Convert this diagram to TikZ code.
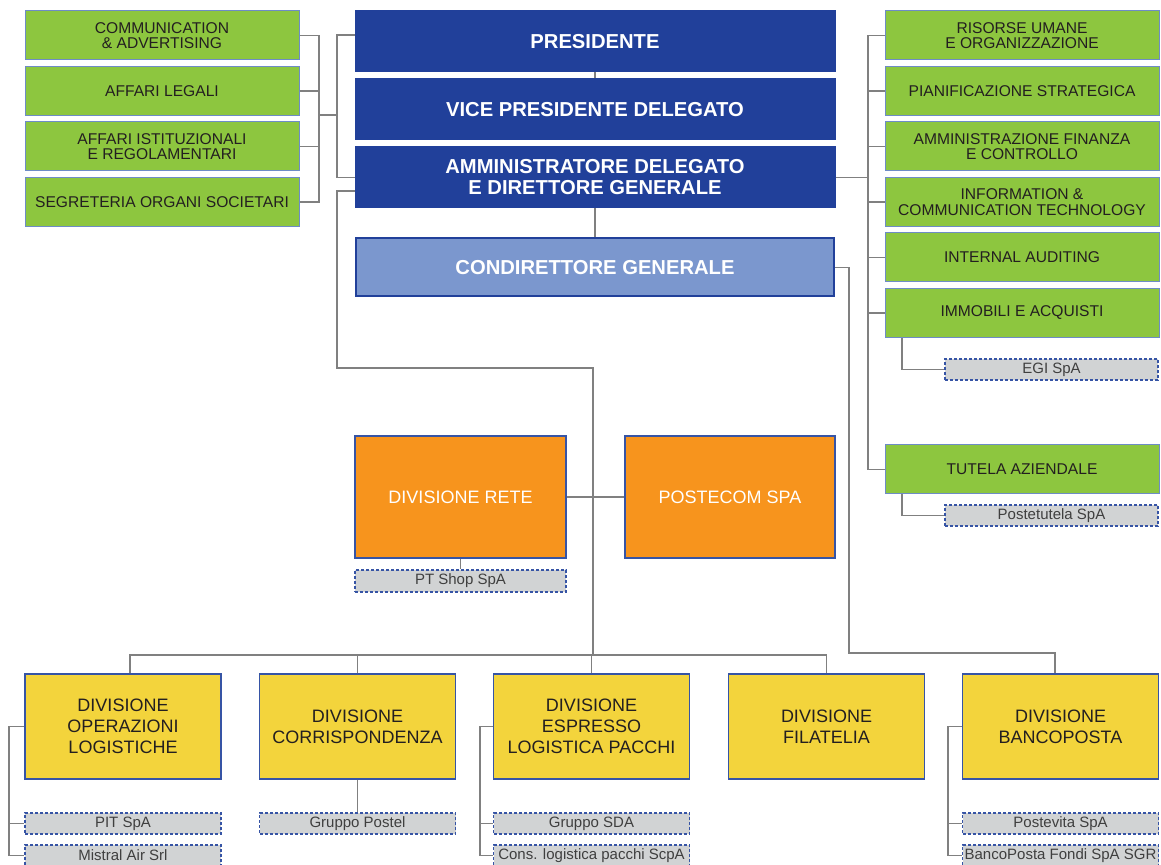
\documentclass[tikz,border=0pt]{standalone}
\usepackage{fontspec}
\setmainfont{Liberation Sans}
\usetikzlibrary{calc}
\definecolor{gfill}{HTML}{8DC63F}
\definecolor{gborder}{HTML}{6E8CC6}
\definecolor{dblue}{HTML}{21409A}
\definecolor{lblue}{HTML}{7B97CE}
\definecolor{ofill}{HTML}{F7941D}
\definecolor{yfill}{HTML}{F3D43C}
\definecolor{bborder}{HTML}{3654A5}
\definecolor{sfill}{HTML}{D1D3D4}
\definecolor{lineg}{HTML}{808080}
\definecolor{txt}{HTML}{231F20}
\definecolor{stxt}{HTML}{3F3F3F}
\begin{document}
\begin{tikzpicture}[x=0.5pt,y=-0.5pt,
 box/.style={rectangle, inner sep=0pt, align=center},
 greenbox/.style={box, fill=gfill, draw=gborder, line width=0.5pt, minimum width=137pt, minimum height=24.5pt, text=txt, font=\fontsize{7.8}{7.65}\selectfont},
 bluebox/.style={box, fill=dblue, draw=dblue, line width=0.5pt, minimum width=240pt, minimum height=30.5pt, text=white, font=\fontsize{10.1}{10.5}\selectfont\bfseries},
 lightbox/.style={box, fill=lblue, draw=dblue, line width=1pt, minimum width=239pt, minimum height=29pt, text=white, font=\fontsize{10.1}{10.5}\selectfont\bfseries},
 orangebox/.style={box, fill=ofill, draw=bborder, line width=0.6pt, minimum width=105.5pt, minimum height=61pt, text=white, font=\fontsize{9}{10.5}\selectfont},
 yellowbox/.style={box, fill=yfill, draw=bborder, line width=0.6pt, minimum width=98pt, minimum height=52.5pt, text=txt, font=\fontsize{9}{10.6}\selectfont},
 subbox/.style={box, fill=sfill, draw=bborder, line width=0.6pt, dash pattern=on 1.5pt off 1pt, minimum width=98pt, minimum height=10.5pt, text=stxt, font=\fontsize{7.5}{8}\selectfont},
 conn/.style={draw=lineg, line width=0.75pt}
]
\useasboundingbox[fill=white] (0,0) rectangle (1161,865);

% left green
\node[greenbox] (L1) at (162,35.5) {COMMUNICATION\\\& ADVERTISING};
\node[greenbox] (L2) at (162,91) {AFFARI LEGALI};
\node[greenbox] (L3) at (162,146.5) {AFFARI ISTITUZIONALI\\E REGOLAMENTARI};
\node[greenbox] (L4) at (162,202) {SEGRETERIA ORGANI SOCIETARI};

% right green
\node[greenbox] (R1) at (1022,35.5) {RISORSE UMANE\\E ORGANIZZAZIONE};
\node[greenbox] (R2) at (1022,91) {PIANIFICAZIONE STRATEGICA};
\node[greenbox] (R3) at (1022,146.5) {AMMINISTRAZIONE FINANZA\\E CONTROLLO};
\node[greenbox] (R4) at (1022,202) {INFORMATION \&\\COMMUNICATION TECHNOLOGY};
\node[greenbox] (R5) at (1022,257.5) {INTERNAL AUDITING};
\node[greenbox] (R6) at (1022,313) {IMMOBILI E ACQUISTI};
\node[greenbox] (R7) at (1022,469.5) {TUTELA AZIENDALE};
\node[subbox, minimum width=106.5pt] (EGI) at (1051.5,369.5) {EGI SpA};
\node[subbox, minimum width=106.5pt] (PTT) at (1051.5,515.5) {Postetutela SpA};

% blue
\node[bluebox] (P) at (595,41.5) {PRESIDENTE};
\node[bluebox] (V) at (595,109.5) {VICE PRESIDENTE DELEGATO};
\node[bluebox] (A) at (595,177.5) {AMMINISTRATORE DELEGATO\\E DIRETTORE GENERALE};
\node[lightbox] (C) at (595,267.5) {CONDIRETTORE GENERALE};

% orange
\node[orangebox] (RETE) at (460.5,497) {DIVISIONE RETE};
\node[orangebox, minimum width=105pt] (POST) at (730,497) {POSTECOM SPA};
\node[subbox, minimum width=105.5pt, minimum height=11pt] (PTS) at (460.5,581) {PT Shop SpA};

% yellow
\node[yellowbox] (Y1) at (123,726.5) {DIVISIONE\\OPERAZIONI\\LOGISTICHE};
\node[yellowbox] (Y2) at (357.5,726.5) {DIVISIONE\\CORRISPONDENZA};
\node[yellowbox] (Y3) at (591.5,726.5) {DIVISIONE\\ESPRESSO\\LOGISTICA PACCHI};
\node[yellowbox] (Y4) at (826.5,726.5) {DIVISIONE\\FILATELIA};
\node[yellowbox] (Y5) at (1060.5,726.5) {DIVISIONE\\BANCOPOSTA};

% subsidiaries
\node[subbox] (PIT) at (123,823.5) {PIT SpA};
\node[subbox] (MIS) at (123,855.5) {Mistral Air Srl};
\node[subbox] (GP) at (357.5,823.5) {Gruppo Postel};
\node[subbox] (SDA) at (591.5,823.5) {Gruppo SDA};
\node[subbox] (CLP) at (591.5,855.5) {Cons. logistica pacchi ScpA};
\node[subbox] (PV) at (1060.5,823.5) {Postevita SpA};
\node[subbox] (BPF) at (1060.5,855.5) {BancoPosta Fondi SpA SGR};

% coordinates
\coordinate (lbusx) at (319,0);
\coordinate (lj) at (319,115);
\coordinate (cbx) at (337,0);
\coordinate (rbx) at (868,0);
\coordinate (k1) at (593,368);
\coordinate (dbus) at (593,655);
\coordinate (cb) at (849,653);
\coordinate (y1x) at (9,0);
\coordinate (y3x) at (480,0);
\coordinate (y5x) at (948,0);

% left connectors
\draw[conn] (L1.east) -- (L1.east -| lbusx) -- (L4.east -| lbusx) -- (L4.east);
\draw[conn] (L2.east) -- (L2.east -| lbusx);
\draw[conn] (L3.east) -- (L3.east -| lbusx);
\draw[conn] (lj) -- (lj -| cbx);
\draw[conn] ([yshift=3.25pt]P.west) -- ([yshift=3.25pt]P.west -| cbx) |- (A.west);

% blue chain
\draw[conn] (P.south) -- (V.north);
\draw[conn] (A.south) -- (C.north);

% to divisions
\draw[conn] ([yshift=-6.75pt]A.west) -- ([yshift=-6.75pt]A.west -| cbx) |- (k1) -- (dbus);
\draw[conn] ([xshift=3.5pt]Y1.north) |- (dbus) -| (Y4.north);
\draw[conn] (Y2.north) -- (Y2.north |- dbus);
\draw[conn] (Y3.north) -- (Y3.north |- dbus);

% right connectors
\draw[conn] (A.east) -- (A.east -| rbx);
\draw[conn] (R1.west) -- (R1.west -| rbx) -- (R7.west -| rbx) -- (R7.west);
\foreach \n in {R2,R3,R4,R5,R6} \draw[conn] (\n.west) -- (\n.west -| rbx);
\draw[conn] ([xshift=-60pt]R6.south) |- (EGI.west);
\draw[conn] ([xshift=-60pt]R7.south) |- (PTT.west);

% condirettore to bancoposta
\draw[conn] (C.east) -| (cb) -| ([xshift=-2.75pt]Y5.north);

% rete
\draw[conn] (RETE.east) -- (POST.west);
\draw[conn] (RETE.south) -- (PTS.north);

% yellow subs
\draw[conn] (Y1.west) -| (y1x |- MIS.west) -- (MIS.west);
\draw[conn] (PIT.west) -- (PIT.west -| y1x);
\draw[conn] (Y2.south) -- (GP.north);
\draw[conn] (Y3.west) -| (y3x |- CLP.west) -- (CLP.west);
\draw[conn] (SDA.west) -- (SDA.west -| y3x);
\draw[conn] (Y5.west) -| (y5x |- BPF.west) -- (BPF.west);
\draw[conn] (PV.west) -- (PV.west -| y5x);
\end{tikzpicture}
\end{document}
